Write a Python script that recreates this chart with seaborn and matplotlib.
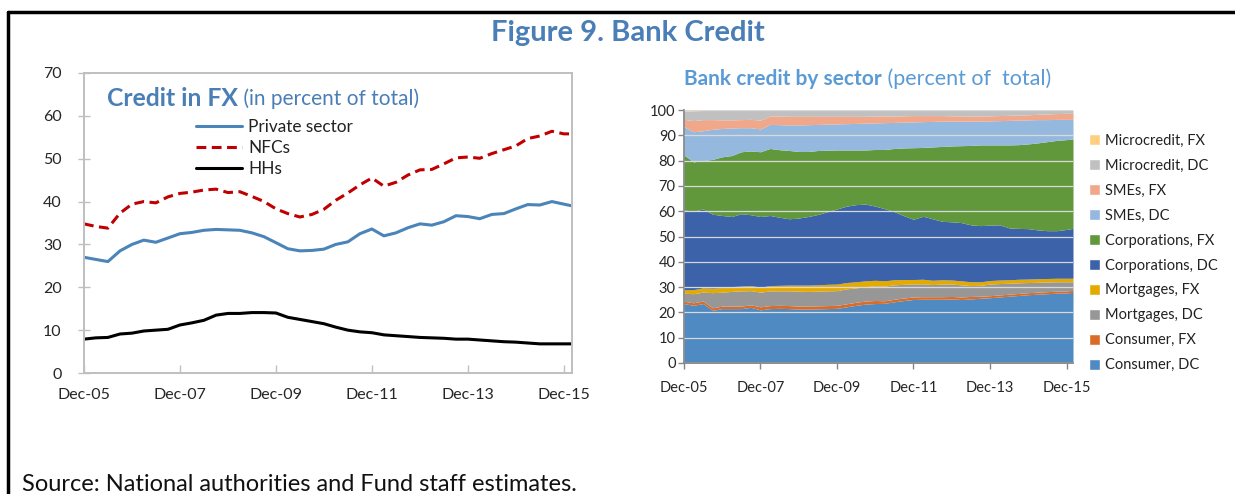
import pandas as pd
import matplotlib.pyplot as plt
import matplotlib.dates as mdates
from matplotlib.lines import Line2D
from matplotlib.patches import Patch
import seaborn as sns

# quarterly readings Dec-05 .. Dec-15, plus last point Feb-16
dates = pd.date_range('2005-12-01', '2015-12-01', freq='3MS').append(pd.DatetimeIndex(['2016-02-01']))

# Left panel: credit in FX (percent of total)
private = [27.0, 26.5, 26.0, 28.5, 30.0, 31.0, 30.5, 31.5, 32.5, 32.8,
           33.3, 33.5, 33.4, 33.3, 32.7, 31.8, 30.4, 29.0, 28.5, 28.6,
           28.9, 30.0, 30.6, 32.5, 33.6, 32.0, 32.7, 33.9, 34.8, 34.5,
           35.3, 36.7, 36.5, 36.0, 37.0, 37.2, 38.3, 39.3, 39.2, 40.0,
           39.4, 39.0]
nfcs = [34.8, 34.2, 33.8, 37.3, 39.4, 40.0, 39.7, 41.1, 41.9, 42.2,
        42.7, 42.9, 42.1, 42.3, 41.2, 40.0, 38.3, 37.2, 36.4, 37.0,
        38.2, 40.3, 42.0, 43.9, 45.5, 43.6, 44.5, 46.2, 47.4, 47.5,
        48.8, 50.2, 50.4, 50.1, 51.2, 52.1, 53.0, 54.7, 55.3, 56.4,
        55.8, 55.8]
hhs = [7.9, 8.2, 8.3, 9.1, 9.3, 9.8, 10.0, 10.2, 11.2, 11.7,
       12.3, 13.5, 13.9, 13.9, 14.1, 14.1, 14.0, 13.0, 12.5, 12.0,
       11.5, 10.7, 10.0, 9.6, 9.4, 8.9, 8.7, 8.5, 8.3, 8.2,
       8.1, 7.9, 7.9, 7.7, 7.5, 7.3, 7.2, 7.0, 6.8, 6.8,
       6.8, 6.8]

# Right panel: bank credit by sector (percent of total)
consumer_dc = [23.5, 22.8, 23.5, 20.8, 21.5, 21.5, 21.5, 22.0, 21.0, 21.5,
               21.6, 21.5, 21.3, 21.3, 21.4, 21.5, 21.6, 22.2, 22.8, 23.3,
               23.5, 23.6, 24.2, 24.7, 25.1, 25.2, 25.2, 25.2, 25.3, 25.1,
               25.3, 25.6, 25.8, 26.1, 26.4, 26.7, 27.0, 27.2, 27.4, 27.6,
               27.7, 27.9]
consumer_fx = [0.9, 1.0, 1.0, 1.0, 1.0, 1.0, 1.0, 1.0, 1.2, 1.2,
               1.2, 1.2, 1.2, 1.2, 1.2, 1.2, 1.2, 1.2, 1.2, 1.2,
               1.2, 1.0, 1.0, 1.0, 1.0, 1.0, 1.0, 1.0, 1.0, 1.0,
               1.0, 0.8, 0.8, 0.8, 0.8, 0.8, 0.8, 0.8, 0.8, 0.8,
               0.8, 0.8]
mortgages_dc = [3.2, 3.6, 3.5, 6.0, 5.5, 5.8, 6.0, 5.6, 5.8, 5.8,
                5.7, 5.8, 5.9, 5.8, 5.8, 5.8, 5.8, 5.9, 5.7, 5.7,
                5.8, 5.8, 5.7, 5.4, 5.1, 5.1, 4.8, 5.0, 4.9, 4.8,
                4.3, 4.3, 4.6, 4.5, 4.3, 4.2, 4.0, 3.9, 3.8, 3.7,
                3.6, 3.4]
mortgages_fx = [1.4, 1.6, 1.7, 1.8, 1.8, 1.9, 1.9, 2.0, 2.0, 2.1,
                2.2, 2.3, 2.4, 2.5, 2.5, 2.6, 2.6, 2.5, 2.4, 2.3,
                2.2, 2.1, 2.0, 1.9, 1.8, 1.8, 1.7, 1.7, 1.6, 1.6,
                1.5, 1.4, 1.4, 1.4, 1.4, 1.4, 1.4, 1.4, 1.4, 1.4,
                1.4, 1.4]
corporations_dc = [31.5, 31.0, 31.2, 29.2, 28.5, 27.7, 28.6, 28.0, 27.9, 27.7,
                   26.9, 26.2, 26.5, 27.1, 27.8, 28.7, 29.7, 30.2, 30.5, 30.3,
                   29.3, 28.5, 26.9, 25.2, 23.8, 24.9, 24.3, 23.1, 23.0, 23.0,
                   22.5, 22.2, 21.9, 21.8, 20.5, 20.1, 19.9, 19.3, 18.9, 18.8,
                   19.3, 19.7]
corporations_fx = [21.7, 19.5, 19.1, 21.7, 23.2, 24.1, 24.5, 25.2, 25.6, 26.5,
                   26.7, 27.0, 26.3, 25.7, 25.3, 24.3, 23.3, 22.2, 21.6, 21.4,
                   22.4, 23.4, 25.0, 26.8, 28.3, 27.2, 28.4, 29.6, 30.0, 30.4,
                   31.4, 31.9, 31.7, 31.6, 32.8, 33.1, 33.5, 34.4, 35.2, 35.7,
                   35.5, 35.3]
smes_dc = [11.2, 11.9, 11.8, 11.9, 11.2, 10.9, 9.5, 9.2, 9.0, 9.5,
           9.9, 10.1, 10.5, 10.6, 10.3, 10.3, 10.3, 10.4, 10.5, 10.6,
           10.5, 10.6, 10.3, 10.2, 10.2, 10.2, 10.1, 10.0, 9.8, 9.7,
           9.6, 9.4, 9.5, 9.6, 9.7, 9.7, 9.5, 9.2, 8.7, 8.3,
           8.0, 7.8]
smes_fx = [2.9, 4.4, 4.4, 3.8, 3.4, 3.2, 3.2, 3.3, 3.5, 3.3,
           3.4, 3.4, 3.4, 3.3, 3.2, 3.1, 3.0, 2.9, 2.8, 2.7,
           2.7, 2.6, 2.5, 2.5, 2.5, 2.4, 2.3, 2.2, 2.1, 2.1,
           2.0, 2.0, 2.0, 2.0, 2.0, 2.0, 2.0, 2.1, 2.2, 2.3,
           2.4, 2.4]
micro_dc = [3.3, 3.9, 3.6, 3.6, 3.8, 3.8, 3.8, 3.7, 4.0, 2.4,
            2.4, 2.5, 2.5, 2.5, 2.5, 2.5, 2.5, 2.5, 2.5, 2.5,
            2.4, 2.4, 2.4, 2.3, 2.2, 2.2, 2.2, 2.2, 2.3, 2.3,
            2.4, 2.4, 2.3, 2.2, 2.1, 2.0, 1.9, 1.7, 1.6, 1.4,
            1.3, 1.3]
micro_fx = [0.4, 0.3, 0.2, 0.2, 0.1, 0.1, 0, 0, 0, 0,
            0, 0, 0, 0, 0, 0, 0, 0, 0, 0,
            0, 0, 0, 0, 0, 0, 0, 0, 0, 0,
            0, 0, 0, 0, 0, 0, 0, 0, 0, 0,
            0, 0]

sectors = ['Consumer, DC', 'Consumer, FX', 'Mortgages, DC', 'Mortgages, FX',
           'Corporations, DC', 'Corporations, FX', 'SMEs, DC', 'SMEs, FX',
           'Microcredit, DC', 'Microcredit, FX']
sector_colors = ['#4F8AC2', '#DA6C28', '#979797', '#E5AA00', '#3C62AA',
                 '#62983C', '#95B8DF', '#F0A78A', '#C0C0C0', '#FFCF80']
tick_dates = pd.to_datetime(['2005-12-01', '2007-12-01', '2009-12-01',
                             '2011-12-01', '2013-12-01', '2015-12-01'])

sns.set_theme(style='white')
plt.rcParams['font.family'] = ['Lato', 'DejaVu Sans']
plt.rcParams['text.color'] = '#222222'

fig = plt.figure(figsize=(12.35, 4.94), dpi=100)
title_blue = '#4A7EB6'
light_blue = '#5B9BD5'

# frame around the figure box
fig.add_artist(Line2D([8 / 1235, 1], [1 - 12 / 494, 1 - 12 / 494], color='black', lw=2.5))
fig.add_artist(Line2D([8 / 1235, 8 / 1235], [0, 1 - 12 / 494], color='black', lw=2.5))

fig.text(628 / 1235, 1 - 33 / 494, 'Figure 9. Bank Credit', ha='center', va='center',
         fontsize=21, fontweight='bold', color=title_blue)
fig.text(22 / 1235, 1 - 484 / 494, 'Source: National authorities and Fund staff estimates.',
         ha='left', va='center', fontsize=17, color='#111111')

# ---------------- Left panel ----------------
ax1 = fig.add_axes([84 / 1235, 121 / 494, 488 / 1235, 300 / 494])
df_fx = pd.DataFrame({'date': dates, 'Private sector': private, 'NFCs': nfcs, 'HHs': hhs})
sns.lineplot(data=df_fx, x='date', y='Private sector', ax=ax1, color='#4A84B8', lw=2.2, label='Private sector')
sns.lineplot(data=df_fx, x='date', y='NFCs', ax=ax1, color='#C00000', lw=2.2, linestyle='--', label='NFCs')
sns.lineplot(data=df_fx, x='date', y='HHs', ax=ax1, color='black', lw=2.2, label='HHs')
ax1.lines[1].set_dashes((3.2, 1.8))
ax1.set_xlim(dates[0], dates[-1])
ax1.set_ylim(0, 70)
ax1.set_yticks(range(0, 71, 10))
ax1.set_xticks(tick_dates)
ax1.xaxis.set_major_formatter(mdates.DateFormatter('%b-%y'))
ax1.set_xlabel('')
ax1.set_ylabel('')
for s in ax1.spines.values():
    s.set_color('#BFBFBF')
    s.set_linewidth(1.4)
ax1.tick_params(axis='x', direction='in', length=6, width=1, color='#BFBFBF',
                labelsize=11.5, pad=11, bottom=True)
ax1.tick_params(axis='y', direction='inout', length=8, width=1, color='#BFBFBF',
                labelsize=11.5, pad=12, left=True)
leg = ax1.legend(loc='upper left', bbox_to_anchor=(0.215, 0.87), frameon=False,
                 fontsize=12.4, handlelength=2.7, labelspacing=0.3, handletextpad=0.35,
                 borderaxespad=0)
t1 = ax1.text(0.048, 0.955, 'Credit in FX', transform=ax1.transAxes, ha='left', va='top',
              fontsize=17.8, fontweight='bold', color=title_blue)
ax1.annotate(' (in percent of total)', xy=(1, 0.02), xycoords=t1, ha='left', va='bottom',
             fontsize=15, color=title_blue)

# ---------------- Right panel ----------------
ax2 = fig.add_axes([684 / 1235, 131 / 494, 389 / 1235, 253 / 494])
ax2.stackplot(dates, consumer_dc, consumer_fx, mortgages_dc, mortgages_fx,
              corporations_dc, corporations_fx, smes_dc, smes_fx, micro_dc, micro_fx,
              colors=sector_colors, labels=sectors, lw=0)
ax2.set_xlim(dates[0], dates[-1])
ax2.set_ylim(0, 100)
ax2.set_yticks(range(0, 101, 10))
ax2.set_xticks(tick_dates)
ax2.xaxis.set_major_formatter(mdates.DateFormatter('%b-%y'))
ax2.grid(axis='y', color='#D9D9D9', lw=0.9)
ax2.set_axisbelow(False)
for g in ax2.get_ygridlines():
    g.set_zorder(0.5)
ax2.spines['top'].set_visible(False)
ax2.spines['right'].set_visible(False)
ax2.spines['left'].set_color('#868686')
ax2.spines['bottom'].set_color('#868686')
ax2.tick_params(axis='both', direction='out', length=4, width=1, color='#868686',
                labelsize=10.5, left=True, bottom=True)
ax2.tick_params(axis='x', pad=9)
ax2.tick_params(axis='y', pad=2)
t2 = fig.text(684 / 1235, 1 - 79 / 494, 'Bank credit by sector', ha='left', va='center',
              fontsize=15, fontweight='bold', color=light_blue)
ax2.annotate(' (percent of  total)', xy=(1, 0.02), xycoords=t2, ha='left', va='bottom',
             fontsize=15.5, color=light_blue, annotation_clip=False)
handles = [Patch(facecolor=c, label=l) for c, l in zip(sector_colors, sectors)][::-1]
fig.legend(handles=handles, loc='upper left', bbox_to_anchor=(1083 / 1235, 1 - 128 / 494),
           frameon=False, fontsize=10.5, handlelength=0.75, handleheight=0.75,
           labelspacing=0.75, handletextpad=0.35, borderaxespad=0)

fig.savefig('out.png', dpi=100)
